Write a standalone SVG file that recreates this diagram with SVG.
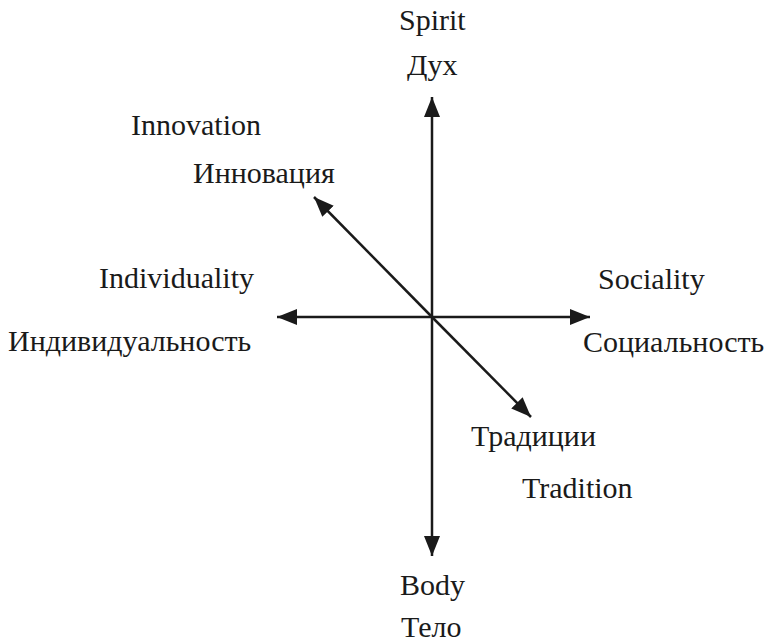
<svg xmlns="http://www.w3.org/2000/svg" width="784" height="642" viewBox="0 0 784 642">
<style>
.ax{stroke:#1a1a1a;stroke-width:2.5;fill:none}
.lb{font-family:"Liberation Serif","Noto Sans CJK SC",serif;font-size:30px;fill:#1a1a1a}
</style>
<defs>
<marker id="ah" viewBox="0 0 20 16" refX="20" refY="8" markerWidth="20" markerHeight="16" markerUnits="userSpaceOnUse" orient="auto">
<path d="M0,0 L20,8 L0,16 z" fill="#1a1a1a"/>
</marker>
</defs>
<rect width="784" height="642" fill="#fff"/>
<g id="connectors">
<line class="ax" x1="432" y1="317" x2="432" y2="97" marker-end="url(#ah)"/>
<line class="ax" x1="432" y1="317" x2="432" y2="556" marker-end="url(#ah)"/>
<line class="ax" x1="432" y1="317" x2="277" y2="317" marker-end="url(#ah)"/>
<line class="ax" x1="432" y1="317" x2="590" y2="317" marker-end="url(#ah)"/>
<line class="ax" x1="432" y1="317" x2="314" y2="197" marker-end="url(#ah)"/>
<line class="ax" x1="432" y1="317" x2="531" y2="417" marker-end="url(#ah)"/>
</g>
<g class="lb">
<g id="spirit"><text x="399" y="30">Spirit</text><text x="407" y="75">Дух</text></g>
<g id="innovation"><text x="131" y="135">Innovation</text><text x="193" y="183">Инновация</text></g>
<g id="individuality"><text x="99" y="288">Individuality</text><text x="8" y="351">Индивидуальность</text></g>
<g id="sociality"><text x="598" y="289">Sociality</text><text x="583" y="352">Социальность</text></g>
<g id="tradition"><text x="471" y="446">Традиции</text><text x="522" y="498">Tradition</text></g>
<g id="body"><text x="400" y="595">Body</text><text x="401" y="637">Тело</text></g>
</g>
</svg>
